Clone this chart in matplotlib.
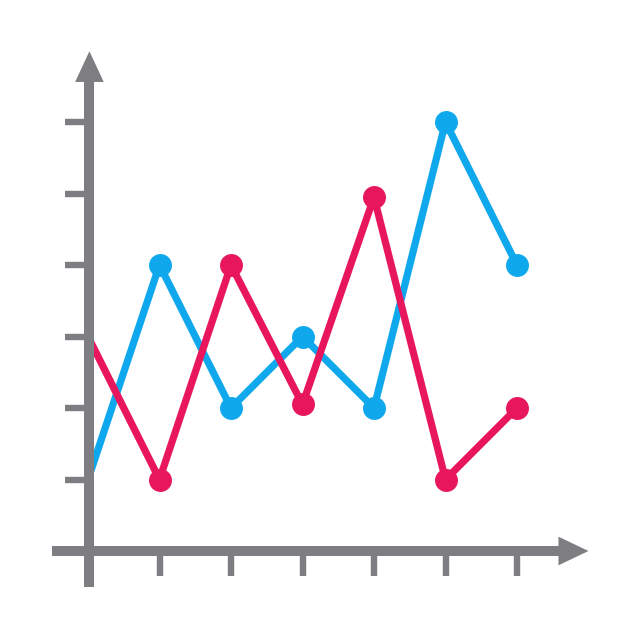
import numpy as np
import matplotlib.pyplot as plt

# data
x_pos = [0, 1, 2, 3, 4, 5, 6]
blue_vals = [1.0, 4.0, 2.0, 3.0, 2.0, 6.0, 4.0]
pink_vals = [3.0, 1.0, 4.0, 2.05, 4.95, 1.0, 2.0]
x_ticks = [1, 2, 3, 4, 5, 6]
y_ticks = [1, 2, 3, 4, 5, 6]

BLUE = "#0fa8ec"
PINK = "#e8175d"
GREY = "#7e7e82"

fig = plt.figure(figsize=(6.4, 6.4), dpi=100)
ax = fig.add_axes([0, 0, 1, 1])
ax.set_xlim(-88 / 71.5, 552 / 71.5)
ax.set_ylim(-89 / 71.5, 551 / 71.5)
ax.axis("off")

# series (first point sits under the y axis, no marker)
ax.plot(x_pos, blue_vals, color=BLUE, lw=5.2, marker="o", ms=15.5,
        markevery=range(1, 7), solid_capstyle="round", zorder=2)
ax.plot(x_pos, pink_vals, color=PINK, lw=5.2, marker="o", ms=15.5,
        markevery=range(1, 7), solid_capstyle="round", zorder=3)

# axes lines
ax.plot([-0.51, 6.6], [0, 0], color=GREY, lw=7.2, solid_capstyle="butt", zorder=5)
ax.plot([0.02, 0.02], [-0.51, 6.6], color=GREY, lw=7.2, solid_capstyle="butt", zorder=5)

# arrow heads
ax.fill([6.58, 6.58, 7.0], [0.2, -0.2, 0], color=GREY, lw=0, zorder=5)
ax.fill([-0.18, 0.22, 0.02], [6.56, 6.56, 6.99], color=GREY, lw=0, zorder=5)

# tick marks
for t in x_ticks:
    ax.plot([t, t], [0, -0.35], color=GREY, lw=4.6, solid_capstyle="butt", zorder=4)
for t in y_ticks:
    ax.plot([-0.32, 0], [t, t], color=GREY, lw=4.6, solid_capstyle="butt", zorder=4)

plt.savefig("out.png", dpi=100)
